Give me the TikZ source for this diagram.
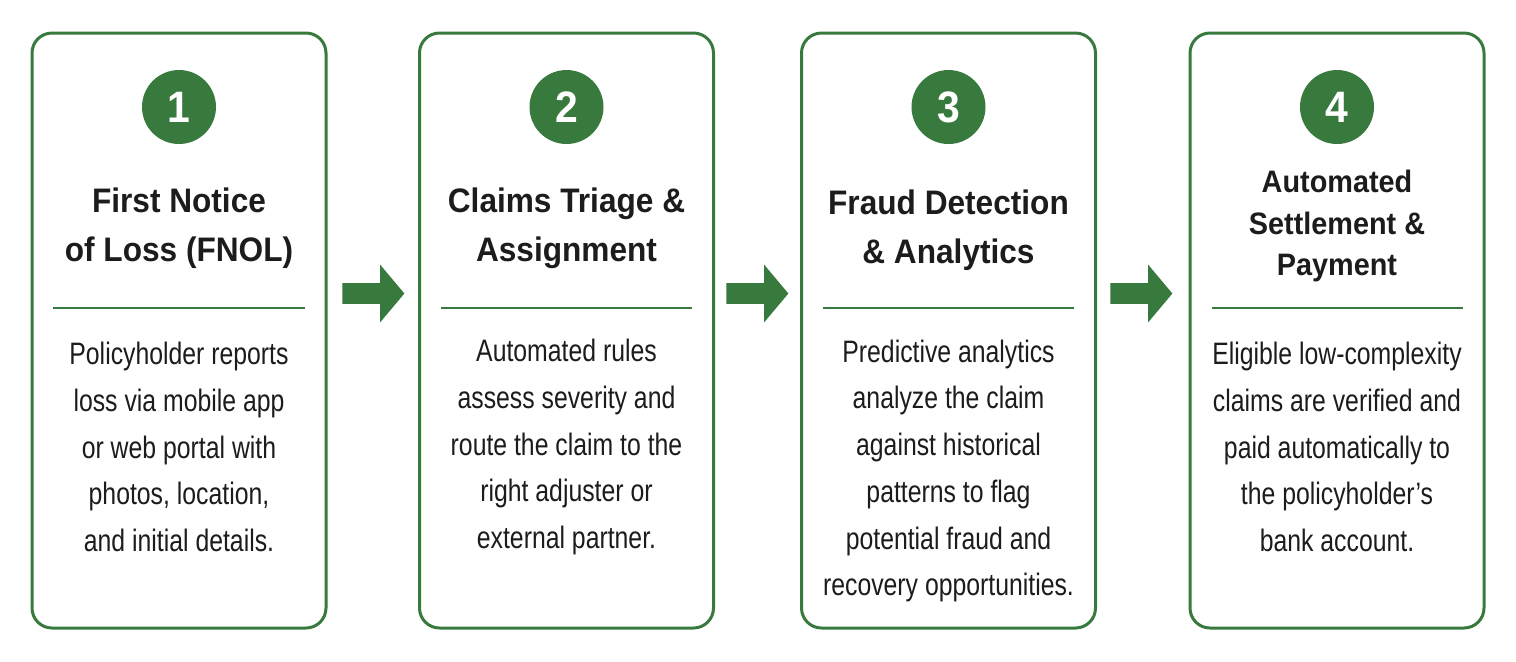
\documentclass[tikz,border=0pt]{standalone}
\usepackage{fontspec}
\setmainfont{Liberation Sans}
\newfontfamily\headfont[FakeStretch=0.93]{Liberation Sans}
\newfontfamily\bodyfont[FakeStretch=0.8]{Liberation Sans}
\usetikzlibrary{shapes.arrows}
\definecolor{leafgreen}{RGB}{56,122,61}
\definecolor{inkgrey}{RGB}{28,28,28}

\begin{document}
\begin{tikzpicture}[x=0.5pt,y=-0.5pt,
  card/.style={draw=leafgreen,line width=1.5pt,rounded corners=10pt,fill=white,
    minimum width=147pt,minimum height=297.5pt},
  badge/.style={circle,fill=leafgreen,minimum size=37pt,inner sep=0pt,text=white,
    font=\headfont\bfseries\fontsize{22}{22}\selectfont},
  title/.style={align=center,text=inkgrey,font=\headfont\bfseries\fontsize{17}{24.5}\selectfont},
  desc/.style={align=center,text=inkgrey,font=\bodyfont\fontsize{15.5}{23.35}\selectfont},
  rule/.style={draw=leafgreen,line width=1pt},
  flow/.style={single arrow,fill=leafgreen,draw=none,inner sep=5pt,
    minimum height=31pt,single arrow head extend=9.25pt,single arrow tip angle=100}]
\useasboundingbox (0,0) rectangle (1516,661);

% cards
\node[card] (c1) at (179,330.5) {};
\node[card] (c2) at (566.5,330.5) {};
\node[card] (c3) at (948.5,330.5) {};
\node[card] (c4) at (1337,330.5) {};

% step numbers
\node[badge] (n1) at (179,107) {1};
\node[badge] (n2) at (566.5,107) {2};
\node[badge] (n3) at (948.5,107) {3};
\node[badge] (n4) at (1337,107) {4};

% titles
\node[title] (t1) at (179,228) {First Notice\\of Loss (FNOL)};
\node[title] (t2) at (566.5,228) {Claims Triage \&\\Assignment};
\node[title] (t3) at (948.5,230) {Fraud Detection\\\& Analytics};
\node[title,font=\headfont\bfseries\fontsize{15.5}{20.75}\selectfont] (t4) at (1337,226) {Automated\\Settlement \&\\Payment};

% separators
\draw[rule] (53,308) -- (305,308);
\draw[rule] (441,308) -- (692,308);
\draw[rule] (823,308) -- (1074,308);
\draw[rule] (1212,308) -- (1463,308);

% descriptions
\node[desc] (d1) at (179,447) {Policyholder reports\\loss via mobile app\\or web portal with\\photos, location,\\and initial details.};
\node[desc] (d2) at (566.5,447) {Automated rules\\assess severity and\\route the claim to the\\right adjuster or\\external partner.};
\node[desc] (d3) at (948.5,471) {Predictive analytics\\analyze the claim\\against historical\\patterns to flag\\potential fraud and\\recovery opportunities.};
\node[desc] (d4) at (1337,447) {Eligible low-complexity\\claims are verified and\\paid automatically to\\the policyholder’s\\bank account.};

% arrows between cards
\node[flow] (a1) at (369,293.5) {};
\node[flow] (a2) at (753,293.5) {};
\node[flow] (a3) at (1137,293.5) {};
\end{tikzpicture}
\end{document}
